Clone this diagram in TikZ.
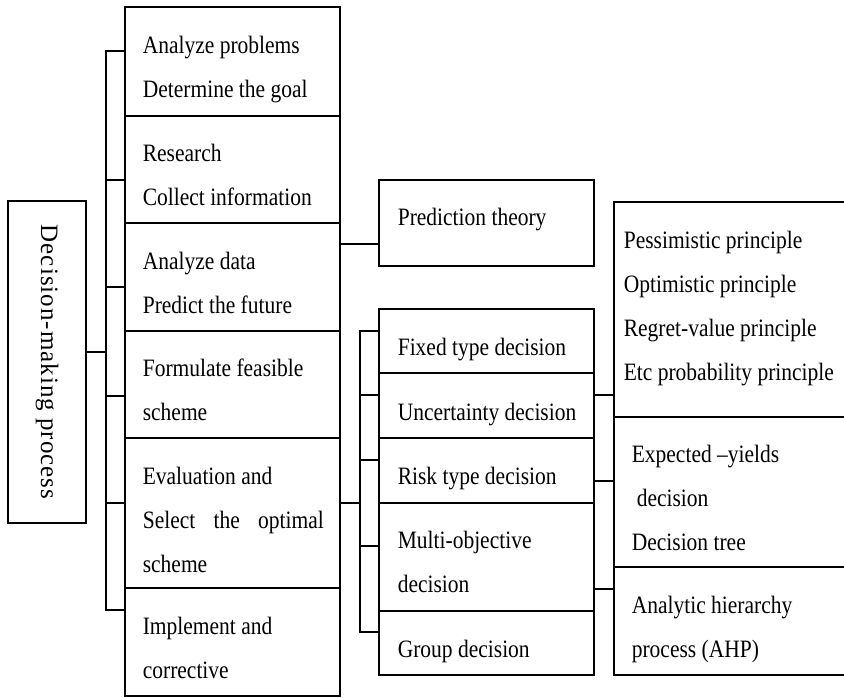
\documentclass[tikz,border=0pt]{standalone}
\usepackage{fontspec}
\setmainfont[FakeStretch=0.86]{Liberation Serif}
\newfontfamily\vfont[LetterSpace=4]{Liberation Serif}
\begin{document}
\begin{tikzpicture}[x=1pt, y=-1pt, line width=1.6pt,
  box/.style={draw, rectangle, inner sep=0pt, outer sep=0pt, anchor=north west},
  % text nodes are placed by the baseline of their last line
  txt/.style={anchor=base west, inner sep=0pt, align=left,
              font=\fontsize{25}{44}\selectfont},
  link/.style={draw, line width=1.6pt}]
\useasboundingbox (0,0) rectangle (844,697);
\clip (0,0) rectangle (844,697);

% root box
\node[box, minimum width=78pt, minimum height=322pt] (main) at (8,201) {};
\node[rotate=-90, inner sep=0pt, font=\vfont\fontsize{25}{30}\selectfont] (mainlbl) at (main.center) {Decision-making process};

% first column: process steps
\node[box, minimum width=215pt, minimum height=109pt] (a1) at (125,7) {};
\node[box, minimum width=215pt, minimum height=107pt] (a2) at (125,116) {};
\node[box, minimum width=215pt, minimum height=108pt] (a3) at (125,223) {};
\node[box, minimum width=215pt, minimum height=107pt] (a4) at (125,331) {};
\node[box, minimum width=215pt, minimum height=150pt] (a5) at (125,438) {};
\node[box, minimum width=215pt, minimum height=108pt] (a6) at (125,588) {};
\node[txt] (ta1) at (142,97) {Analyze problems\\Determine the goal};
\node[txt] (ta2) at (142,205) {Research\\Collect information};
\node[txt] (ta3) at (142,313) {Analyze data\\Predict the future};
\node[txt] (ta4) at (142,420) {Formulate feasible\\scheme};
\node[txt] (ta5) at (142,572) {Evaluation and\\\makebox[181pt][s]{Select the optimal}\\scheme};
\node[txt] (ta6) at (142,678) {Implement and\\corrective};

% second column
\node[box, minimum width=215pt, minimum height=86pt] (pred) at (379,180) {};
\node[txt] (tpred) at (397,225) {Prediction theory};
\node[box, minimum width=215pt, minimum height=64pt] (d1) at (379,309) {};
\node[box, minimum width=215pt, minimum height=65pt] (d2) at (379,373) {};
\node[box, minimum width=215pt, minimum height=65pt] (d3) at (379,438) {};
\node[box, minimum width=215pt, minimum height=108pt] (d4) at (379,503) {};
\node[box, minimum width=215pt, minimum height=64pt] (d5) at (379,611) {};
\node[txt] (td1) at (397,355) {Fixed type decision};
\node[txt] (td2) at (397,420) {Uncertainty decision};
\node[txt] (td3) at (397,484) {Risk type decision};
\node[txt] (td4) at (397,592) {Multi-objective\\decision};
\node[txt] (td5) at (397,657) {Group decision};

% third column: methods
\node[box, minimum width=240pt, minimum height=215pt] (r1) at (614,202) {};
\node[box, minimum width=240pt, minimum height=150pt] (r2) at (614,417) {};
\node[box, minimum width=240pt, minimum height=108pt] (r3) at (614,567) {};
\node[txt] (tr1) at (623,380) {Pessimistic principle\\Optimistic principle\\Regret-value principle\\Etc probability principle};
\node[txt] (tr2) at (631,550) {Expected –yields\\\hspace{5pt}decision\\Decision tree};
\node[txt] (tr3) at (631,657) {Analytic hierarchy\\process (AHP)};

% junction points
\coordinate (j0) at (106,352);
\coordinate (j1) at (106,51);
\coordinate (j2) at (106,180);
\coordinate (j3) at (106,287);
\coordinate (j4) at (106,396);
\coordinate (j5) at (106,503);
\coordinate (j6) at (106,610);
\coordinate (q)  at (360,244);
\coordinate (k0) at (360,503);
\coordinate (k1) at (360,331);
\coordinate (k2) at (360,395);
\coordinate (k3) at (360,460);
\coordinate (k4) at (360,546);
\coordinate (k5) at (360,632);
\coordinate (c1) at (604,395);
\coordinate (c2) at (604,481);
\coordinate (c3) at (604,589);

% root to steps
\draw[link] (main.east |- j0) -- (j0);
\draw[link] (a1.west |- j1) -- (j1) -- (j6) -- (a6.west |- j6);
\draw[link] (j2) -- (a2.west |- j2);
\draw[link] (j3) -- (a3.west |- j3);
\draw[link] (j4) -- (a4.west |- j4);
\draw[link] (j5) -- (a5.west |- j5);

% steps to second column
\draw[link] (a3.east |- q) -- (pred.west |- q);
\draw[link] (a5.east |- k0) -- (k0);
\draw[link] (d1.west |- k1) -- (k1) -- (k5) -- (d5.west |- k5);
\draw[link] (k2) -- (d2.west |- k2);
\draw[link] (k3) -- (d3.west |- k3);
\draw[link] (k4) -- (d4.west |- k4);

% decision types to methods
\draw[link] (d2.east |- c1) -- (r1.west |- c1);
\draw[link] (d3.east |- c2) -- (r2.west |- c2);
\draw[link] (d4.east |- c3) -- (r3.west |- c3);
\end{tikzpicture}
\end{document}
